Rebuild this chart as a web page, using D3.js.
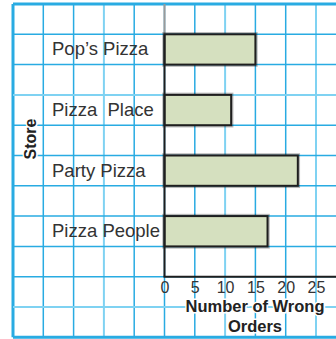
<!DOCTYPE html>
<html>
<head>
<meta charset="utf-8">
<script src="https://cdn.jsdelivr.net/npm/d3@7"></script>
<style>
  html, body { margin: 0; padding: 0; background: #fff; }
  svg { display: block; }
  text { font-family: "Liberation Sans", Arial, Helvetica, sans-serif; }
</style>
</head>
<body>
<svg id="chart" width="336" height="339"></svg>
<script>
// Wrong orders per pizza store
const stores = ["Pop\u2019s Pizza", "Pizza\u00a0 Place", "Party Pizza", "Pizza People"];
const wrongOrders = [15, 11, 22, 17];
const xTicks = [0, 5, 10, 15, 20, 25];
const xTitleLines = ["Number of Wrong", "Orders"];
const yTitle = "Store";

const W = 336, H = 339;
const svg = d3.select("#chart");

const gridBlue = "#29abe2";
const gridLight = "#7fd2f2";

// value scale: one grid cell per 5 orders
const x = d3.scaleLinear().domain([0, 25]).range([164.5, 316]);
const cell = x(5) - x(0);
const gridTop = 4;
const axisY = gridTop + 9 * cell;

// each store takes one cell, with an empty cell between
const y = d3.scaleBand()
  .domain(stores)
  .range([gridTop + cell, axisY])
  .paddingInner(0.5)
  .paddingOuter(0.25)
  .align(0);

// graph-paper grid
const vLines = d3.range(-25, 30, 5);           // in value units, across the whole sheet
const hLines = d3.range(0, 12);                // row indices
const lightV = new Set([-10, 10, 25]);
const lightH = new Set([3, 10]);

const grid = svg.append("g");
grid.selectAll("line.v").data(vLines).join("line")
  .attr("class", "v")
  .attr("x1", d => x(d)).attr("x2", d => x(d))
  .attr("y1", gridTop).attr("y2", gridTop + 11 * cell)
  .attr("stroke", d => lightV.has(d) ? gridLight : gridBlue)
  .attr("stroke-width", d => d === -25 ? 3 : (lightV.has(d) ? 2 : 1.5));
grid.selectAll("line.h").data(hLines).join("line")
  .attr("class", "h")
  .attr("x1", x(-25)).attr("x2", W)
  .attr("y1", d => gridTop + d * cell).attr("y2", d => gridTop + d * cell)
  .attr("stroke", d => lightH.has(d) ? gridLight : gridBlue)
  .attr("stroke-width", d => (d === 0 || d === 11) ? 3 : (lightH.has(d) ? 2 : 1.5));

// faint grey continuation of the value axis above the bars
svg.append("line")
  .attr("x1", x(0)).attr("x2", x(0))
  .attr("y1", gridTop).attr("y2", gridTop + cell)
  .attr("stroke", "#9a9a9a").attr("stroke-width", 2);

// bars: soft shadow, then outlined fill
const bars = svg.append("g");
const rows = stores.map((s, i) => ({ store: s, value: wrongOrders[i] }));
bars.selectAll("rect.shadow").data(rows).join("rect")
  .attr("class", "shadow")
  .attr("x", x(0))
  .attr("y", d => y(d.store))
  .attr("width", d => x(d.value) - x(0))
  .attr("height", y.bandwidth())
  .attr("fill", "none")
  .attr("stroke", "rgba(0,0,0,0.28)")
  .attr("stroke-width", 4.5);
bars.selectAll("rect.bar").data(rows).join("rect")
  .attr("class", "bar")
  .attr("x", x(0))
  .attr("y", d => y(d.store))
  .attr("width", d => x(d.value) - x(0))
  .attr("height", y.bandwidth())
  .attr("fill", "#d5e0bf")
  .attr("stroke", "#1e1e1e")
  .attr("stroke-width", 2);

// axes lines
svg.append("line")
  .attr("x1", x(0)).attr("x2", x(0))
  .attr("y1", gridTop + cell).attr("y2", axisY)
  .attr("stroke", "#1e1e1e").attr("stroke-width", 2);
svg.append("line")
  .attr("x1", x(0) - 1).attr("x2", W)
  .attr("y1", axisY).attr("y2", axisY)
  .attr("stroke", "#1e1e1e").attr("stroke-width", 2);

// tick labels along the value axis
const xAxis = svg.append("g")
  .attr("transform", `translate(0,${axisY})`)
  .call(d3.axisBottom(x).tickValues(xTicks).tickSize(0).tickPadding(5));
xAxis.select(".domain").remove();
xAxis.selectAll("text")
  .attr("fill", "#333")
  .style("font-size", "16px")
  .style("font-family", "'Liberation Sans', Arial, sans-serif");

// store names
svg.append("g").selectAll("text").data(stores).join("text")
  .attr("x", 52)
  .attr("y", d => y(d) + y.bandwidth() / 2 + 6)
  .attr("fill", "#333")
  .style("font-size", "18.5px")
  .text(d => d);

// axis titles
svg.append("g").selectAll("text").data(xTitleLines).join("text")
  .attr("x", 255)
  .attr("y", (d, i) => 312 + i * 20)
  .attr("text-anchor", "middle")
  .attr("fill", "#222")
  .attr("stroke", "#fff")
  .attr("stroke-width", 3)
  .attr("paint-order", "stroke")
  .style("font-size", "16.5px")
  .style("font-weight", "bold")
  .text(d => d);

svg.append("text")
  .attr("transform", "translate(36,139) rotate(-90)")
  .attr("text-anchor", "middle")
  .attr("fill", "#222")
  .attr("stroke", "#fff")
  .attr("stroke-width", 3)
  .attr("paint-order", "stroke")
  .style("font-size", "16px")
  .style("font-weight", "bold")
  .text(yTitle);
</script>
</body>
</html>
